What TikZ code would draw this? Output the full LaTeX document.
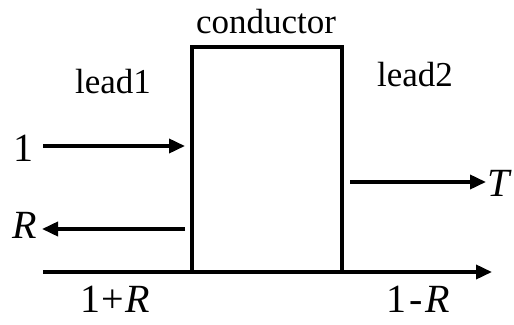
\documentclass[tikz,border=0pt]{standalone}
\usepackage{fontspec}
\setmainfont{Liberation Serif}
\usetikzlibrary{arrows.meta}
\begin{document}
\begin{tikzpicture}[x=1pt,y=1pt,
  txt/.style={inner sep=0pt,font=\fontsize{35}{40}\selectfont},
  lbl/.style={inner sep=0pt,font=\fontsize{40}{46}\selectfont},
  box/.style={draw,line width=4pt,minimum width=150pt,minimum height=225pt,inner sep=0pt},
  arr/.style={line width=3.6pt,-{Triangle[length=16pt,width=14pt]}}]
\useasboundingbox (0,0) rectangle (514,324);
\node[box] (cond) at (267,164.5) {};
\node[txt] (condl) at (266,302) {conductor};
\node[txt] (lead1) at (113,242) {lead1};
\node[txt] (lead2) at (415,249) {lead2};
\node[lbl] (one) at (23,176) {1};
\node[lbl] (r) at (25,99) {\textit{R}};
\node[lbl] (t) at (500,141) {\textit{T}};
\node[lbl] (opr) at (115,25) {1\kern1pt+\kern1pt\textit{R}};
\node[lbl] (omr) at (418,25) {1\kern3pt-\kern3pt\textit{R}};
\coordinate (ax0) at (43,52);
\coordinate (ax1) at (492,52);
\coordinate (a1s) at (43,178);
\coordinate (a1e) at (185,178);
\coordinate (ars) at (185,95);
\coordinate (are) at (42,95);
\coordinate (ats) at (350,142);
\coordinate (ate) at (486,142);
\draw[arr] (ax0) -- (ax1);
\draw[arr] (a1s) -- (a1e);
\draw[arr] (ars) -- (are);
\draw[arr] (ats) -- (ate);
\end{tikzpicture}
\end{document}
